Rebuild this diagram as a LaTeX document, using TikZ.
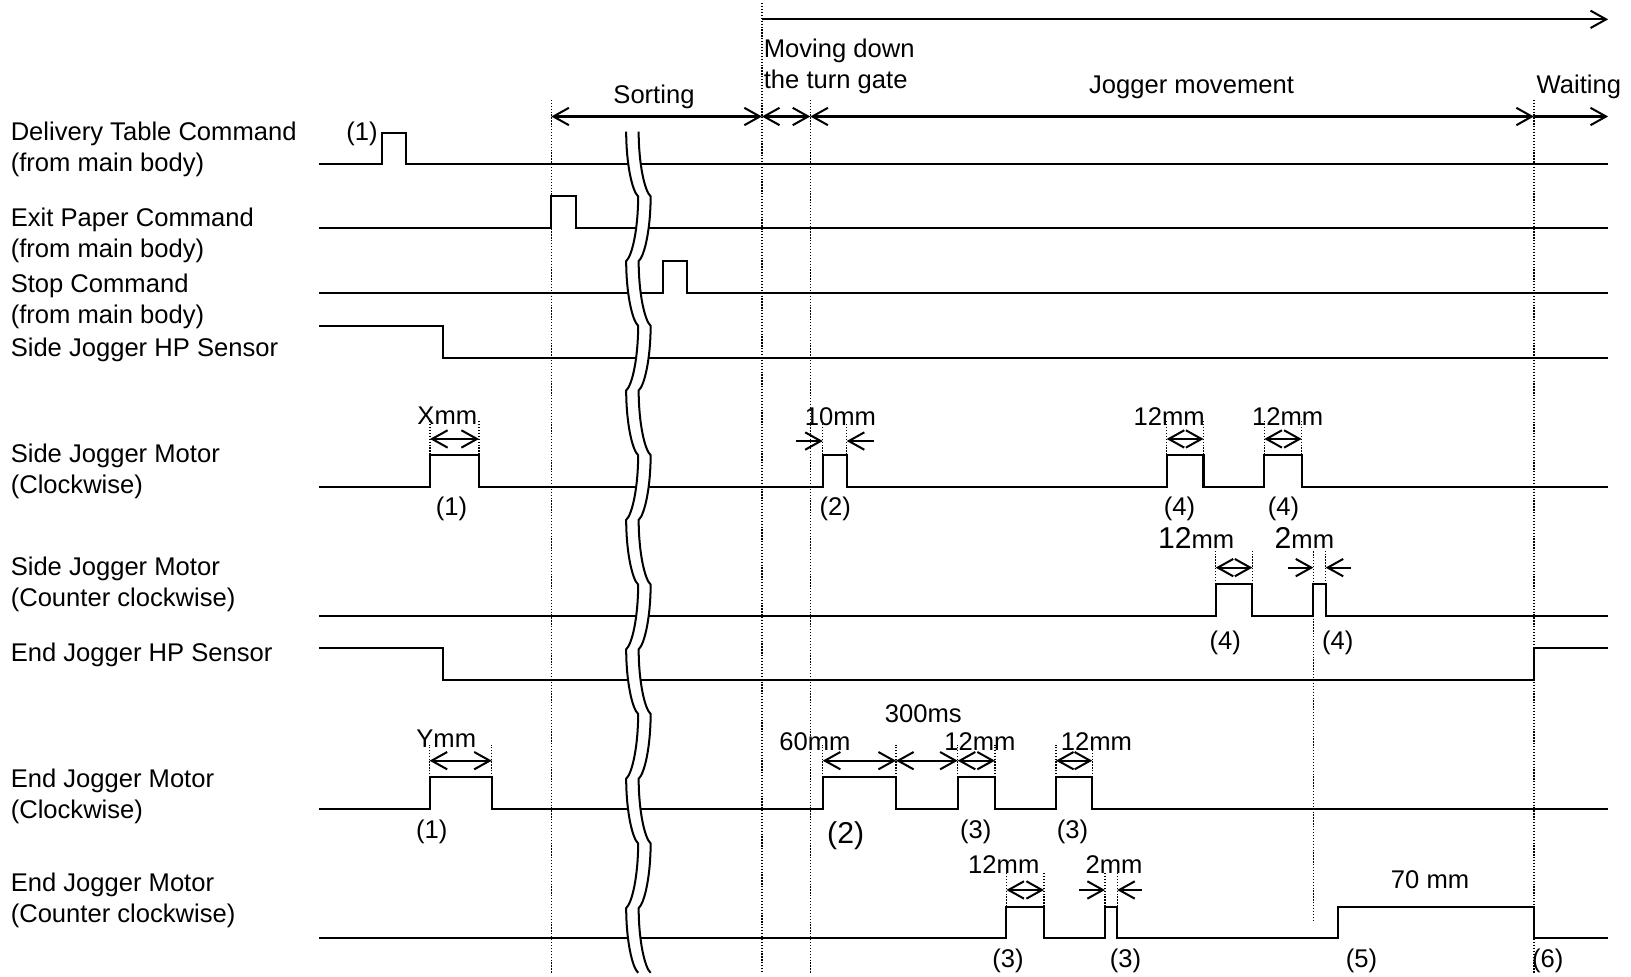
\documentclass[tikz,border=0pt]{standalone}
\usepackage{fontspec}
\setmainfont{Liberation Sans}
\usetikzlibrary{arrows.meta}
\newcommand{\bigdigit}[1]{{\fontsize{16.5}{17}\selectfont #1}}

\begin{document}
\begin{tikzpicture}[x=0.02cm, y=-0.02cm, >={Straight Barb[length=8.5pt,width=9.5pt]},
    every node/.style={inner sep=0pt, font=\fontsize{14}{17}\selectfont},
    sig/.style={line width=1.1pt},
    guide/.style={line width=0.7pt, dash pattern=on 0.7pt off 0.9pt},
    dim/.style={line width=1.1pt},
    lbl/.style={anchor=west, align=left}]
    \useasboundingbox (0,0) rectangle (1568,939);

    % signal names
    \node[lbl] (delivery) at (10,144) {Delivery Table Command\\(from main body)};
    \node[lbl] (exitcmd) at (10,226.5) {Exit Paper Command\\(from main body)};
    \node[lbl] (stopcmd) at (10,289.5) {Stop Command\\(from main body)};
    \node[lbl] (sidehp) at (10,336) {Side Jogger HP Sensor};
    \node[lbl] (sidecw) at (10,453) {Side Jogger Motor\\(Clockwise)};
    \node[lbl] (sideccw) at (10,561.5) {Side Jogger Motor\\(Counter clockwise)};
    \node[lbl] (endhp) at (10,630) {End Jogger HP Sensor};
    \node[lbl] (endcw) at (10,765.5) {End Jogger Motor\\(Clockwise)};
    \node[lbl] (endccw) at (10,866) {End Jogger Motor\\(Counter clockwise)};

    % phase guides
    \foreach \x/\ty in {530/96, 732.5/3, 779/96, 1474.7/96}
        \draw[guide] (\x,\ty) -- (\x,935);
    \draw[guide] (1262.6,530) -- (1262.6,887);

    % phases
    \draw[dim,->] (732.5,18.6) -- (1546,18.6);
    \draw[dim,<->] (530,112) -- (732.5,112);
    \draw[dim,<->] (732.5,112) -- (779,112);
    \draw[dim,<->] (779,112) -- (1474.7,112);
    \draw[dim,->] (1474.7,112) -- (1546,112);
    \node (sorting) at (628.7,93) {Sorting};
    \node[lbl] (gate) at (734,64) {Moving down\\the turn gate};
    \node (jogging) at (1145.5,84) {Jogger movement};
    \node[anchor=west] (waiting) at (1477,84) {Waiting};

    % waveforms
    \draw[sig] (307,158) -| (367,127.5) -| (390,158) -- (1546,158);
    \draw[sig] (307,219.5) -| (530,188.5) -| (554,219.5) -- (1546,219.5);
    \draw[sig] (307,281.5) -| (637.5,251) -| (660.5,281.5) -- (1546,281.5);
    \draw[sig] (307,313) -| (425.6,344) -- (1546,344);
    \draw[sig] (307,468) -| (413.4,437) -| (460.5,468) -| (791,437) -| (814,468)
        -| (1121.6,437) -| (1157,468) -| (1215.5,437) -| (1251.4,468) -- (1546,468);
    \draw[sig] (307,592) -| (1168.7,561.5) -| (1204,592) -| (1262.6,561.5)
        -| (1274.4,592) -- (1546,592);
    \draw[sig] (307,623.3) -| (425.6,653.7) -| (1474.7,623.3) -- (1546,623.3);
    \draw[sig] (307,778) -| (413,747.3) -| (472.8,778) -| (791,747.3) -| (861.4,778)
        -| (920.7,747.3) -| (956.5,778) -| (1015.2,747.3) -| (1050,778) -- (1546,778);
    \draw[sig] (307,901.5) -| (967.5,871.5) -| (1003.7,901.5) -| (1062.3,871.5)
        -| (1074,901.5) -| (1286.3,871.5) -| (1474.7,901.5) -- (1546,901.5);

    % break mark
    \fill[white] (602,126.6)
        \foreach \i [evaluate=\i as \ya using 126.6+62.2*\i,
                     evaluate=\i as \yb using 126.6+62.2*(\i+1),
                     evaluate=\i as \xa using 607.75-5.75*cos(180*\i),
                     evaluate=\i as \xb using 607.75+5.75*cos(180*\i)] in {0,...,12}
            { .. controls (\xa,\ya+31) and ({(\xa+\xb)/2},\yb-5) .. (\xb,\yb) }
        -- ++(12,0)
        \foreach \i [evaluate=\i as \ya using 126.6+62.2*\i,
                     evaluate=\i as \yb using 126.6+62.2*(\i+1),
                     evaluate=\i as \xa using 607.75-5.75*cos(180*\i),
                     evaluate=\i as \xb using 607.75+5.75*cos(180*\i)] in {12,11,...,0}
            { .. controls ({(\xa+\xb)/2+12},\yb-5) and (\xa+12,\ya+31) .. (\xa+12,\ya) }
        -- cycle;
    \foreach \dx in {0,12}
        \draw[sig] (602+\dx,126.6)
            \foreach \i [evaluate=\i as \ya using 126.6+62.2*\i,
                         evaluate=\i as \yb using 126.6+62.2*(\i+1),
                         evaluate=\i as \xa using 607.75-5.75*cos(180*\i),
                         evaluate=\i as \xb using 607.75+5.75*cos(180*\i)] in {0,...,12}
                { .. controls (\xa+\dx,\ya+31) and ({(\xa+\xb)/2+\dx},\yb-5) .. (\xb+\dx,\yb) };

    % side jogger motor, clockwise
    \foreach \x in {413.4,460.5,1121.6,1157,1215.5,1251.4}
        \draw[guide] (\x,437) -- (\x,405);
    \foreach \x in {791,814}
        \draw[guide] (\x,437) -- (\x,407);
    \draw[dim,<->] (413.4,422) -- (460.5,422);
    \draw[dim,->] (765,424) -- (791,424);
    \draw[dim,->] (840,424) -- (814,424);
    \draw[dim,<->] (1121.6,422) -- (1157,422);
    \draw[dim,<->] (1215.5,422) -- (1251.4,422);

    % side jogger motor, counter clockwise
    \foreach \x in {1168.7,1204,1274.4}
        \draw[guide] (\x,561.5) -- (\x,530);
    \draw[dim,<->] (1168.7,545.7) -- (1204,545.7);
    \draw[dim,->] (1238.6,545.7) -- (1262.6,545.7);
    \draw[dim,->] (1298.5,545.7) -- (1274.4,545.7);

    % end jogger motor, clockwise
    \foreach \x in {413,472.8,791,861.4,920.7,956.5,1015.2,1050}
        \draw[guide] (\x,747.3) -- (\x,716);
    \foreach \xa/\xb in {413/472.8, 791/861.4, 861.4/920.7, 920.7/956.5, 1015.2/1050}
        \draw[dim,<->] (\xa,731.3) -- (\xb,731.3);

    % end jogger motor, counter clockwise
    \foreach \x in {967.5,1003.7,1062.3,1074}
        \draw[guide] (\x,871.5) -- (\x,839);
    \draw[dim,<->] (967.5,855.6) -- (1003.7,855.6);
    \draw[dim,->] (1037,855.6) -- (1062.3,855.6);
    \draw[dim,->] (1098,855.6) -- (1074,855.6);

    % step numbers and widths
    \node (dt1) at (348,129) {(1)};
    \node (xmm) at (430,400) {Xmm};
    \node (scw1) at (434,489) {(1)};
    \node (tenmm) at (808,400.6) {10mm};
    \node (scw2) at (803,489) {(2)};
    \node (scwa) at (1124,400.6) {12mm};
    \node (scw4a) at (1134,489) {(4)};
    \node (scwb) at (1238,400.6) {12mm};
    \node (scw4b) at (1234,489) {(4)};
    \node (sccwa) at (1150,517) {\bigdigit{12}mm};
    \node (sccw4a) at (1178,618) {(4)};
    \node (sccwb) at (1254,517) {\bigdigit{2}mm};
    \node (sccw4b) at (1286,618) {(4)};
    \node (ymm) at (429,710) {Ymm};
    \node (ecw1) at (415,800) {(1)};
    \node (sixty) at (783.5,713) {60mm};
    \node (delay) at (887.6,686) {300ms};
    \node (ecw2) at (813,803) {\bigdigit{(2)}};
    \node (ecwa) at (942,713) {12mm};
    \node (ecw3a) at (938,800) {(3)};
    \node (ecwb) at (1054,713) {12mm};
    \node (ecw3b) at (1031,800) {(3)};
    \node (eccwa) at (965,831.6) {12mm};
    \node (eccw3a) at (969,924) {(3)};
    \node (eccwb) at (1071,831.6) {2mm};
    \node (eccw3b) at (1082,924) {(3)};
    \node (seventy) at (1374.8,846) {70 mm};
    \node (eccw5) at (1309,924) {(5)};
    \node (eccw6) at (1488,924) {(6)};
\end{tikzpicture}
\end{document}
